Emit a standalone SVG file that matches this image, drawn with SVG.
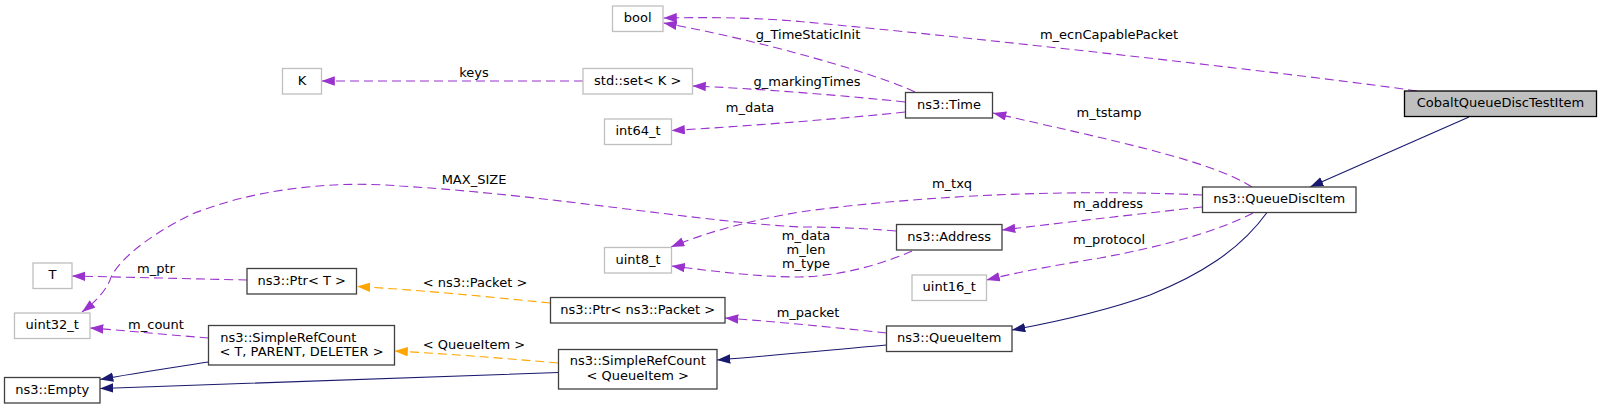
<svg xmlns="http://www.w3.org/2000/svg" width="1601" height="409" viewBox="0 0 1601 409">
<style>
text{font-family:"DejaVu Sans","Liberation Sans",sans-serif;font-size:13px;fill:#000}
.n text{text-anchor:middle}
.box{fill:#fff;stroke:#404040;stroke-width:1.3}
.gbox{fill:#fff;stroke:#bfbfbf;stroke-width:1.3}
.root{fill:#bfbfbf;stroke:#000;stroke-width:1.3}
.e{fill:none;stroke-width:1.1}
.p{stroke:#9a32cd;stroke-dasharray:9,5;marker-end:url(#ap)}
.o{stroke:#ffa500;stroke-dasharray:9,5;marker-end:url(#ao)}
.b{stroke:#191970;marker-end:url(#ab)}
.lbl{text-anchor:middle}
</style>
<defs>
<marker id="ap" viewBox="0 0 14 10" markerWidth="14" markerHeight="10" refX="13.3" refY="4.7" orient="auto" markerUnits="userSpaceOnUse"><path d="M0,0 L13.3,4.7 L0,9.4 Z" fill="#9a32cd"/></marker>
<marker id="ao" viewBox="0 0 14 10" markerWidth="14" markerHeight="10" refX="13.3" refY="4.7" orient="auto" markerUnits="userSpaceOnUse"><path d="M0,0 L13.3,4.7 L0,9.4 Z" fill="#ffa500"/></marker>
<marker id="ab" viewBox="0 0 14 10" markerWidth="14" markerHeight="10" refX="13.3" refY="4.7" orient="auto" markerUnits="userSpaceOnUse"><path d="M0,0 L13.3,4.7 L0,9.4 Z" fill="#191970"/></marker>
</defs>
<g id="connectors">
<path class="e b" d="M1469,117 L1310,187"/>
<path class="e p" d="M1417,91 C1330,78 1000,40 800,21.5 C760,18 720,17 663.5,18"/>
<text class="lbl" x="1109" y="39">m_ecnCapablePacket</text>
<path class="e p" d="M915,92 C880,75 760,40 663.5,23"/>
<text class="lbl" x="808" y="39">g_TimeStaticInit</text>
<path class="e p" d="M905,102 C850,96 750,88 692.5,86"/>
<text class="lbl" x="807" y="85.5">g_markingTimes</text>
<path class="e p" d="M583,81 L321.5,81"/>
<text class="lbl" x="474" y="76.5">keys</text>
<path class="e p" d="M905,112 C850,118 750,126 671.5,130.5"/>
<text class="lbl" x="750" y="111.5">m_data</text>
<path class="e p" d="M1252,187 C1210,160 1110,140 993,113"/>
<text class="lbl" x="1109" y="116.5">m_tstamp</text>
<path class="e p" d="M1202,195 C1050,188 900,198 800,212 C740,222 700,235 671,247"/>
<text class="lbl" x="952" y="188">m_txq</text>
<path class="e p" d="M1202,207 C1130,215 1060,223 1002,230"/>
<text class="lbl" x="1108" y="208">m_address</text>
<path class="e p" d="M1253,213 C1220,230 1170,245 1100,258 C1050,266 1010,274 986.5,280"/>
<text class="lbl" x="1109" y="244">m_protocol</text>
<path class="e b" d="M1267,212.5 C1240,250 1200,275 1150,295 C1100,313 1050,323 1012,330"/>
<path class="e p" d="M896,231 C860,228 830,227 800,227 C700,222 550,195 400,186 C330,180 250,190 190,215 C140,240 115,265 110,280 C105,292 95,302 82,312"/>
<text class="lbl" x="474" y="184.3">MAX_SIZE</text>
<path class="e p" d="M912,251 C880,265 840,276 800,277 C760,277 720,272 671.5,266"/>
<text class="lbl" x="806" y="239.5">m_data</text>
<text class="lbl" x="806" y="253.5">m_len</text>
<text class="lbl" x="806" y="267.5">m_type</text>
<path class="e p" d="M247,280 C200,279 120,277 72,276"/>
<text class="lbl" x="156" y="272.5">m_ptr</text>
<path class="e o" d="M550.5,303 C480,296 420,290 357,286.5"/>
<text class="lbl" x="475" y="286.5">&lt; ns3::Packet &gt;</text>
<path class="e p" d="M886.5,333 C830,327 780,322 725,318"/>
<text class="lbl" x="808" y="316.5">m_packet</text>
<path class="e b" d="M886.5,345 C830,350 780,355 717,360"/>
<path class="e o" d="M558.5,363 C500,358 450,354 394.5,351"/>
<text class="lbl" x="474" y="349.3">&lt; QueueItem &gt;</text>
<path class="e p" d="M208.5,338 C170,335 130,331 90,328"/>
<text class="lbl" x="156" y="328.5">m_count</text>
<path class="e b" d="M208.5,362 C170,368 130,374 100,379.5"/>
<path class="e b" d="M558.5,372.5 C400,378 250,383 100,388.5"/>
</g>
<g id="cobalt" class="n"><rect class="root" x="1404.5" y="91" width="192" height="25.5"/><text x="1500.5" y="107">CobaltQueueDiscTestItem</text></g>
<g id="queuediscitem" class="n"><rect class="box" x="1202.5" y="187" width="153.5" height="25.5"/><text x="1279.25" y="203">ns3::QueueDiscItem</text></g>
<g id="time" class="n"><rect class="box" x="905.5" y="92.5" width="87" height="25.5"/><text x="949" y="108.5">ns3::Time</text></g>
<g id="bool" class="n"><rect class="gbox" x="612.5" y="6" width="50.5" height="25.5"/><text x="637.75" y="22">bool</text></g>
<g id="stdset" class="n"><rect class="gbox" x="583" y="68.5" width="109.5" height="25.5"/><text x="637.75" y="84.5">std::set&lt; K &gt;</text></g>
<g id="k" class="n"><rect class="gbox" x="282.5" y="68.5" width="39" height="25.5"/><text x="302" y="84.5">K</text></g>
<g id="int64" class="n"><rect class="gbox" x="604.5" y="119" width="67" height="25.5"/><text x="638" y="135">int64_t</text></g>
<g id="address" class="n"><rect class="box" x="896.5" y="224.5" width="105.5" height="25.5"/><text x="949.25" y="240.5">ns3::Address</text></g>
<g id="uint8" class="n"><rect class="gbox" x="604.5" y="247.5" width="67" height="25.5"/><text x="638" y="263.5">uint8_t</text></g>
<g id="uint16" class="n"><rect class="gbox" x="912" y="275" width="74.5" height="25.5"/><text x="949.25" y="291">uint16_t</text></g>
<g id="t" class="n"><rect class="gbox" x="33" y="263" width="39" height="25.5"/><text x="52.5" y="279">T</text></g>
<g id="ptrt" class="n"><rect class="box" x="247" y="268.5" width="109.5" height="25.5"/><text x="301.75" y="284.5">ns3::Ptr&lt; T &gt;</text></g>
<g id="uint32" class="n"><rect class="gbox" x="14.5" y="313" width="75.5" height="25.5"/><text x="52.25" y="329">uint32_t</text></g>
<g id="srct" class="n"><rect class="box" x="208.5" y="325.5" width="186" height="39.5"/><text x="220.3" y="341.5" style="text-anchor:start">ns3::SimpleRefCount</text><text x="301.5" y="355.5">&lt; T, PARENT, DELETER &gt;</text></g>
<g id="empty" class="n"><rect class="box" x="4.5" y="377.5" width="95.5" height="25.5"/><text x="52.25" y="393.5">ns3::Empty</text></g>
<g id="ptrpacket" class="n"><rect class="box" x="550.5" y="297.5" width="174.5" height="25.5"/><text x="637.75" y="313.5">ns3::Ptr&lt; ns3::Packet &gt;</text></g>
<g id="srcqi" class="n"><rect class="box" x="558.5" y="349.5" width="158.5" height="39.5"/><text x="637.75" y="365.2">ns3::SimpleRefCount</text><text x="637.75" y="379.7">&lt; QueueItem &gt;</text></g>
<g id="queueitem" class="n"><rect class="box" x="886.5" y="326" width="125.5" height="25.5"/><text x="949.25" y="342">ns3::QueueItem</text></g>
</svg>
